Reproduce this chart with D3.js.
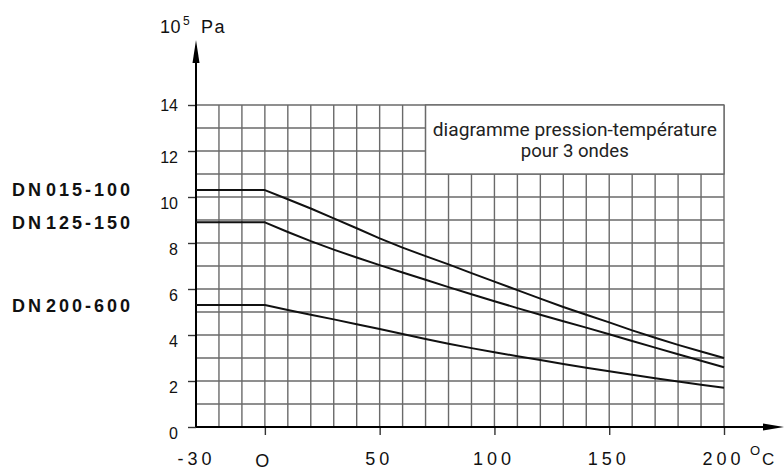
<!DOCTYPE html>
<html><head><meta charset="utf-8">
<script src="https://cdn.jsdelivr.net/npm/d3@7"></script>
<style>
html,body{margin:0;padding:0;background:#fff;}
svg{display:block;}
</style></head>
<body><svg id="c" width="784" height="470"></svg>
<script>
// ---- data ----
const temps = [-30, 0, 10, 20, 30, 40, 50, 60, 70, 80, 90, 100, 110, 120, 130, 140, 150, 160, 170, 180, 190, 200];
const dn015_100 = [10.3, 10.3, 9.9, 9.5, 9.07, 8.64, 8.2, 7.8, 7.43, 7.07, 6.69, 6.32, 5.95, 5.58, 5.22, 4.88, 4.55, 4.2, 3.88, 3.57, 3.28, 3.0];
const dn125_150 = [8.9, 8.9, 8.48, 8.08, 7.71, 7.37, 7.04, 6.72, 6.4, 6.08, 5.77, 5.47, 5.17, 4.88, 4.6, 4.32, 4.03, 3.74, 3.45, 3.16, 2.88, 2.6];
const dn200_600 = [5.3, 5.3, 5.09, 4.88, 4.68, 4.47, 4.26, 4.04, 3.83, 3.62, 3.43, 3.25, 3.08, 2.91, 2.74, 2.58, 2.42, 2.27, 2.12, 1.98, 1.84, 1.71];
const seriesNames = ["DN015-100", "DN125-150", "DN200-600"];
const xTickValues = [-30, 0, 50, 100, 150, 200];
const xTickLabels = ["-30", "O", "50", "100", "150", "200"];
const yTickValues = [0, 2, 4, 6, 8, 10, 12, 14];
const gridX = d3.range(-20, 201, 10);
const gridY = d3.range(1, 15, 1);
const boxText = ["diagramme pression-température", "pour 3 ondes"];
const yUnit = ["10", "5", "Pa"];
const xUnit = ["O", "C"];

// ---- scales ----
const svg = d3.select("#c");
const x = d3.scaleLinear().domain([-30, 200]).range([196, 724]);
const y = d3.scaleLinear().domain([0, 14]).range([427, 105]);
const gridColor = "#6a6a6a";

// grid
const g = svg.append("g");
g.selectAll("line.gx").data(gridX).join("line")
  .attr("x1", d => x(d)).attr("x2", d => x(d))
  .attr("y1", y(0)).attr("y2", y(14))
  .attr("stroke", gridColor).attr("stroke-width", 1.4);
g.selectAll("line.gy").data(gridY).join("line")
  .attr("x1", x(-30)).attr("x2", x(200))
  .attr("y1", d => y(d)).attr("y2", d => y(d))
  .attr("stroke", gridColor).attr("stroke-width", 1.4);

// text box
g.append("rect")
  .attr("x", x(70)).attr("y", y(14))
  .attr("width", x(200) - x(70)).attr("height", y(11) - y(14))
  .attr("fill", "#fff").attr("stroke", gridColor).attr("stroke-width", 1.4);
const bx = (x(70) + x(200)) / 2;
g.append("text").attr("x", bx).attr("y", 136).attr("text-anchor", "middle")
  .attr("font-family", "Roboto, 'Open Sans', sans-serif").attr("font-size", 18)
  .attr("fill", "#222").attr("textLength", 284).attr("lengthAdjust", "spacingAndGlyphs")
  .text(boxText[0]);
g.append("text").attr("x", bx).attr("y", 157).attr("text-anchor", "middle")
  .attr("font-family", "Roboto, 'Open Sans', sans-serif").attr("font-size", 18)
  .attr("fill", "#222").attr("textLength", 108).attr("lengthAdjust", "spacingAndGlyphs")
  .text(boxText[1]);

// y axis ticks & labels
const yAxis = d3.axisLeft(y).tickValues(yTickValues).tickSize(8).tickPadding(10).tickFormat(d3.format("d"));
const ya = svg.append("g").attr("transform", `translate(${x(-30)},0)`).call(yAxis);
ya.select(".domain").remove();
ya.selectAll(".tick line").attr("stroke", "#333").attr("stroke-width", 1.4);
ya.selectAll(".tick text")
  .attr("font-family", "'Liberation Sans', Arial, sans-serif").attr("font-size", 16).attr("fill", "#111")
  .attr("dy", d => d === 14 ? "0.35em" : "0.73em");

// x axis ticks & labels
const xAxis = d3.axisBottom(x).tickValues(xTickValues).tickSize(8).tickPadding(14)
  .tickFormat((d, i) => xTickLabels[i]);
const xa = svg.append("g").attr("transform", `translate(0,${y(0)})`).call(xAxis);
xa.select(".domain").remove();
xa.selectAll(".tick line").attr("stroke", "#333").attr("stroke-width", 1.4)
  .attr("opacity", d => d === -30 ? 0 : 1);
xa.selectAll(".tick text")
  .attr("font-family", "'Liberation Sans', Arial, sans-serif").attr("font-size", 18).attr("fill", "#111")
  .attr("letter-spacing", "4px").attr("dy", d => d === 0 ? "1.0em" : "0.9em")
  .attr("dx", d => d === -30 ? "0px" : "-1px");

// axis lines with arrows
svg.append("line").attr("x1", x(-30)).attr("x2", x(-30)).attr("y1", y(0)).attr("y2", 50)
  .attr("stroke", "#000").attr("stroke-width", 2);
svg.append("path").attr("d", `M${x(-30)},40 L${x(-30) - 3.5},63 L${x(-30) + 3.5},63 Z`).attr("fill", "#000");
svg.append("line").attr("x1", x(-30)).attr("x2", 775).attr("y1", y(0)).attr("y2", y(0))
  .attr("stroke", "#000").attr("stroke-width", 2);
svg.append("path").attr("d", `M784,${y(0)} L763,${y(0) - 3.5} L763,${y(0) + 3.5} Z`).attr("fill", "#000");

// unit labels
const yu = svg.append("text").attr("font-family", "'Liberation Sans', Arial, sans-serif").attr("fill", "#111");
yu.append("tspan").attr("x", 160).attr("y", 33).attr("font-size", 18).attr("letter-spacing", "0.5px").text(yUnit[0]);
yu.append("tspan").attr("x", 183).attr("y", 25).attr("font-size", 12).text(yUnit[1]);
yu.append("tspan").attr("x", 201).attr("y", 33).attr("font-size", 18).attr("letter-spacing", "1.5px").text(yUnit[2]);
svg.append("text").attr("x", 750).attr("y", 455).attr("font-family", "'Liberation Sans', Arial, sans-serif")
  .attr("font-size", 13).attr("fill", "#111").text(xUnit[0]);
svg.append("text").attr("x", 762).attr("y", 465).attr("font-family", "'Liberation Sans', Arial, sans-serif")
  .attr("font-size", 17).attr("fill", "#111").text(xUnit[1]);

// series lines
const line = d3.line().x((d, i) => x(temps[i])).y(d => y(d));
[dn015_100, dn125_150, dn200_600].forEach(s => {
  svg.append("path").datum(s).attr("d", line).attr("fill", "none")
    .attr("stroke", "#111").attr("stroke-width", 2).attr("stroke-linejoin", "round");
});

// series labels (left)
const labelBaselines = [196, 228.5, 311.5];
seriesNames.forEach((n, i) => {
  const t = svg.append("text").attr("x", 12).attr("y", labelBaselines[i])
    .attr("font-family", "'Liberation Sans', Arial, sans-serif").attr("font-weight", "bold")
    .attr("font-size", 18).attr("fill", "#111").attr("letter-spacing", "3px");
  t.append("tspan").text(n.slice(0, 2));
  t.append("tspan").attr("dx", 2).text(n.slice(2));
});
</script>
</body></html>
